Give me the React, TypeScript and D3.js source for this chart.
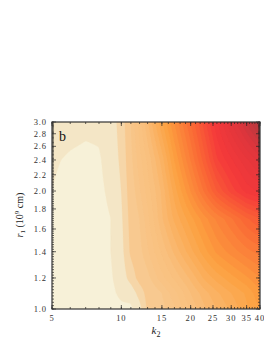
import React from "react";
import * as d3 from "d3";

// k2 sample columns and r1 sample rows
const kCols = [5, 6, 7, 8, 9, 10, 11, 12, 13, 15, 17, 20, 23, 26, 30, 35, 40];
const rRows = [1.0, 1.1, 1.2, 1.4, 1.7, 2.0, 2.4, 3.0];
const z_r100 = [0.04, 0.03, 0.03, 0.03, 0.035, 0.04, 0.04, 0.08, 0.16, 0.19, 0.22, 0.28, 0.32, 0.35, 0.38, 0.42, 0.45];
const z_r110 = [0.04, 0.03, 0.03, 0.03, 0.04, 0.06, 0.07, 0.12, 0.17, 0.2, 0.24, 0.3, 0.34, 0.37, 0.4, 0.43, 0.47];
const z_r120 = [0.04, 0.03, 0.03, 0.03, 0.045, 0.07, 0.12, 0.17, 0.19, 0.24, 0.28, 0.33, 0.38, 0.41, 0.44, 0.47, 0.5];
const z_r140 = [0.04, 0.03, 0.03, 0.03, 0.05, 0.08, 0.16, 0.19, 0.22, 0.28, 0.33, 0.39, 0.44, 0.48, 0.51, 0.54, 0.56];
const z_r170 = [0.045, 0.03, 0.03, 0.035, 0.05, 0.09, 0.17, 0.2, 0.24, 0.32, 0.38, 0.44, 0.49, 0.53, 0.57, 0.62, 0.65];
const z_r200 = [0.05, 0.035, 0.03, 0.04, 0.06, 0.1, 0.18, 0.22, 0.26, 0.33, 0.41, 0.5, 0.58, 0.65, 0.71, 0.76, 0.78];
const z_r240 = [0.055, 0.045, 0.04, 0.045, 0.07, 0.11, 0.19, 0.24, 0.28, 0.36, 0.45, 0.55, 0.64, 0.72, 0.77, 0.82, 0.86];
const z_r300 = [0.07, 0.065, 0.06, 0.06, 0.075, 0.12, 0.2, 0.26, 0.32, 0.42, 0.5, 0.6, 0.69, 0.77, 0.85, 0.93, 1.0];
const zRows = [z_r100, z_r110, z_r120, z_r140, z_r170, z_r200, z_r240, z_r300];

const colorStops = [0, 0.05, 0.1, 0.15, 0.3, 0.45, 0.6, 0.75, 0.88, 1.0];
const colorList = ["#f7f1d8", "#f4e6c6", "#f6d6a8", "#f8c990", "#f9bf7c", "#fca040", "#fa6c35", "#f4393a", "#df353c", "#b03a3e"];

const xTicks = [5, 10, 15, 20, 25, 30, 35, 40];
const yTicks = [1.0, 1.2, 1.4, 1.6, 1.8, 2.0, 2.2, 2.4, 2.6, 2.8, 3.0];

const W = 264, H = 341;
const X0 = 52, X1 = 260, Y0 = 122, Y1 = 309;

function lookup(arr: number[], v: number) {
  const lv = Math.log(v);
  let i = 0;
  while (i < arr.length - 2 && Math.log(arr[i + 1]) < lv) i++;
  const a = Math.log(arr[i]), b = Math.log(arr[i + 1]);
  let t = (lv - a) / (b - a);
  t = Math.max(0, Math.min(1, t));
  return [i, t];
}

export default function App() {
  const x = d3.scaleLog().domain([5, 40]).range([X0, X1]);
  const y = d3.scaleLog().domain([1, 3]).range([Y1, Y0]);
  const nx = X1 - X0, ny = Y1 - Y0;
  const vals = new Array(nx * ny);
  for (let j = 0; j < ny; j++) {
    const r = y.invert(Y0 + j + 0.5);
    const [ri, rt] = lookup(rRows, r);
    for (let i = 0; i < nx; i++) {
      const k = x.invert(X0 + i + 0.5);
      const [ki, kt] = lookup(kCols, k);
      const a = zRows[ri][ki] * (1 - kt) + zRows[ri][ki + 1] * kt;
      const b = zRows[ri + 1][ki] * (1 - kt) + zRows[ri + 1][ki + 1] * kt;
      vals[j * nx + i] = a * (1 - rt) + b * rt;
    }
  }
  const color = d3.scaleLinear<string>().domain(colorStops).range(colorList).interpolate(d3.interpolateRgb);
  const thresholds: number[] = [0.05, 0.1, 0.15];
  for (let t = 0.2; t < 1.0; t += 0.025) thresholds.push(+t.toFixed(3));
  const bandColor = (idx: number) => {
    const lo = thresholds[idx];
    const hi = idx + 1 < thresholds.length ? thresholds[idx + 1] : 1.0;
    if (lo < 0.16) return color(lo);
    return color((lo + hi) / 2);
  };
  const contours = d3.contours().size([nx, ny]).thresholds(thresholds)(vals);
  const path = d3.geoPath();

  const yMinor = d3.range(1.0, 3.0001, 0.02);
  const xMinor = d3.range(5, 41, 1);
  const tickFont = "'Liberation Serif', 'Times New Roman', serif";

  return (
    <svg width={W} height={H} style={{ position: "absolute", left: 0, top: 0 }}>
      <defs>
        <clipPath id="plotclip">
          <rect x={X0} y={Y0} width={nx} height={ny} />
        </clipPath>
      </defs>
      <g clipPath="url(#plotclip)">
        <rect x={X0} y={Y0} width={nx} height={ny} fill={color(0)} />
        <g transform={`translate(${X0},${Y0})`}>
          {contours.map((c, i) => (
            <path key={i} d={path(c as any) || ""} fill={bandColor(i)} stroke={bandColor(i)} strokeWidth={0.3} />
          ))}
        </g>
      </g>
      <g stroke="#222" strokeWidth={0.7}>
        {yMinor.map((v, i) => (
          <g key={"ym" + i}>
            <line x1={X0} x2={X0 + 2} y1={y(v)} y2={y(v)} />
            <line x1={X1} x2={X1 - 2} y1={y(v)} y2={y(v)} />
          </g>
        ))}
        {xMinor.map((v, i) => (
          <g key={"xm" + i}>
            <line x1={x(v)} x2={x(v)} y1={Y1} y2={Y1 - 2} />
            <line x1={x(v)} x2={x(v)} y1={Y0} y2={Y0 + 2} />
          </g>
        ))}
        {yTicks.map((v, i) => (
          <g key={"yM" + i}>
            <line x1={X0} x2={X0 + 4} y1={y(v)} y2={y(v)} />
            <line x1={X1} x2={X1 - 4} y1={y(v)} y2={y(v)} />
          </g>
        ))}
        {xTicks.map((v, i) => (
          <g key={"xM" + i}>
            <line x1={x(v)} x2={x(v)} y1={Y1} y2={Y1 - 4} />
            <line x1={x(v)} x2={x(v)} y1={Y0} y2={Y0 + 4} />
          </g>
        ))}
      </g>
      <rect x={X0} y={Y0} width={nx} height={ny} fill="none" stroke="#333" strokeWidth={1.2} />
      {yTicks.map((v, i) => (
        <text key={"yl" + i} x={X0 - 5} y={y(v) + 3} textAnchor="end" fontFamily={tickFont} fontSize={8.5} fill="#333" letterSpacing={0.9}>
          {d3.format(".1f")(v)}
        </text>
      ))}
      {xTicks.map((v, i) => (
        <text key={"xl" + i} x={x(v)} y={Y1 + 12} textAnchor="middle" fontFamily={tickFont} fontSize={8.5} fill="#333" letterSpacing={0.9}>
          {v}
        </text>
      ))}
      <text x={156} y={334} textAnchor="middle" fontFamily={tickFont} fontSize={11} fill="#222">
        <tspan fontStyle="italic">k</tspan>
        <tspan fontSize={8} dy={3}>2</tspan>
      </text>
      <text transform={`translate(23,215) rotate(-90)`} textAnchor="middle" fontFamily={tickFont} fontSize={10} fill="#222">
        <tspan fontStyle="italic">r</tspan>
        <tspan fontSize={7} dy={2}>1</tspan>
        <tspan dy={-2}> (10</tspan>
        <tspan fontSize={7} dy={-4}>9</tspan>
        <tspan dy={4}> cm)</tspan>
      </text>
      <text x={59} y={141} fontFamily={tickFont} fontSize={14} fill="#111">b</text>
    </svg>
  );
}
